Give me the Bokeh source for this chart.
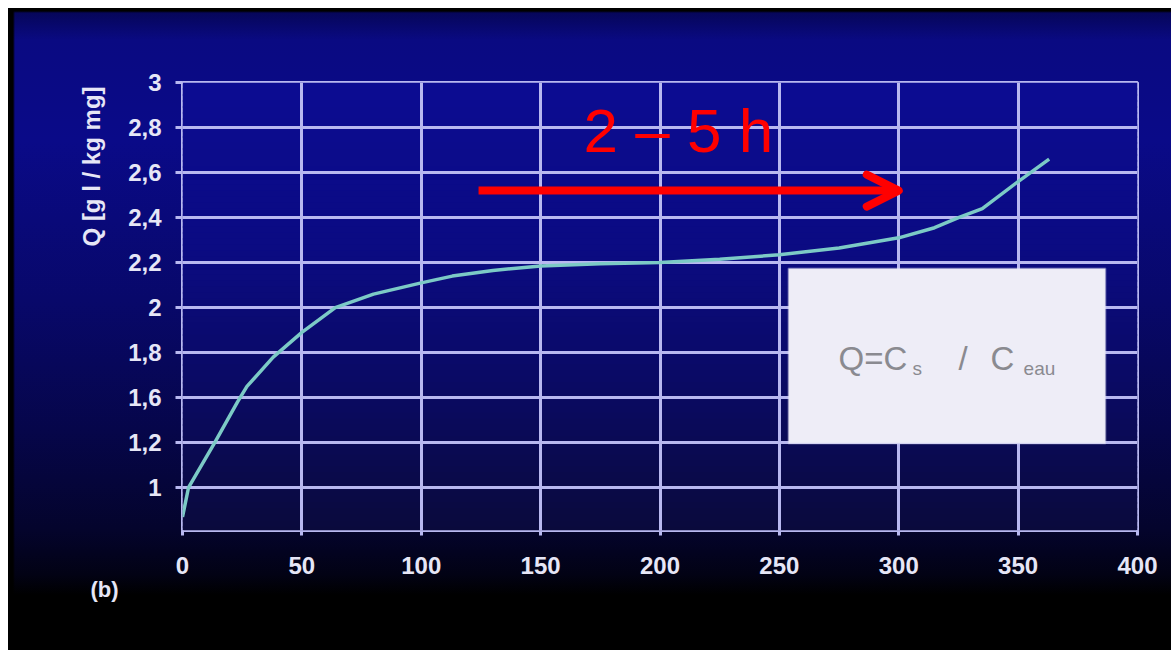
from bokeh.plotting import figure
from bokeh.models import Range1d, FixedTicker, Label, Arrow, OpenHead, BoxAnnotation, Title
from bokeh.embed import file_html
from bokeh.resources import INLINE

# ---- data ----
time_h = [0, 2.5, 8, 13.5, 23, 27, 38, 50, 64, 80, 100, 113, 130, 150, 175, 200, 225, 250, 275, 300, 315, 325, 335, 350, 363]
q_vals = [1.07, 1.20, 1.30, 1.40, 1.58, 1.65, 1.78, 1.89, 2.00, 2.06, 2.11, 2.14, 2.165, 2.185, 2.195, 2.20, 2.215, 2.235, 2.265, 2.31, 2.355, 2.40, 2.44, 2.56, 2.66]
x_ticks = [0, 50, 100, 150, 200, 250, 300, 350, 400]
y_ticks = [1.2, 1.4, 1.6, 1.8, 2.0, 2.2, 2.4, 2.6, 2.8, 3.0]
y_labels = ["1", "1,2", "1,6", "1,8", "2", "2,2", "2,4", "2,6", "2,8", "3"]
y_title = "Q [g l / kg mg]"
panel_tag = "(b)"
arrow_text = "2 – 5 h"

GRID = "#b8b8f0"
TXT = "#e6e6f6"

bg_css = ("linear-gradient(to right, #000 0px, #000 5px, rgba(0,0,0,0) 7px), "
          "linear-gradient(to bottom, #000 0px, #000 3px, #06065a 5px, #0a0a82 32px, #0a0a88 132px, "
          "#08086a 292px, #06064a 422px, #04042c 522px, #020214 567px, #000 587px, #000 100%)")

p = figure(width=1163, height=642, output_backend="svg", toolbar_location=None,
           x_range=Range1d(0, 400), y_range=Range1d(1.01, 3.0),
           min_border_left=174, min_border_right=34, min_border_top=74, min_border_bottom=120,
           margin=(8, 0, 0, 8), styles={"background": bg_css})
p.border_fill_color = None
p.background_fill_color = "#0a0a80"
p.outline_line_color = GRID
p.outline_line_width = 3

# ---- photographic shading of the plot area (decorative) ----
def px_to_y(py):
    return 3.0 - (py - 74) / 225.1

def mix(stops, py):
    for (a, ca), (b, cb) in zip(stops, stops[1:]):
        if a <= py <= b:
            t = (py - a) / (b - a)
            return "#%02x%02x%02x" % tuple(int(round(ca[i] + (cb[i] - ca[i]) * t)) for i in range(3))
    return "#%02x%02x%02x" % stops[-1][1]

frame_stops = [(74, (12, 12, 146)), (242, (11, 11, 130)), (392, (10, 10, 96)), (522, (10, 10, 60))]
step = 6
py = 74
while py < 522:
    p.add_layout(BoxAnnotation(left=0, right=400, top=px_to_y(py), bottom=px_to_y(min(py + step + 1, 522)),
                               fill_color=mix(frame_stops, py + step / 2), fill_alpha=1,
                               line_alpha=0, level="image"))
    py += step

# ---- grid & axes ----
p.xgrid.ticker = FixedTicker(ticks=x_ticks)
p.ygrid.ticker = FixedTicker(ticks=y_ticks)
for g in (p.xgrid, p.ygrid):
    g.grid_line_color = GRID
    g.grid_line_width = 3

p.xaxis.ticker = FixedTicker(ticks=x_ticks)
p.yaxis.ticker = FixedTicker(ticks=y_ticks)
p.yaxis.major_label_overrides = dict(zip(y_ticks, y_labels))
for ax in (p.xaxis, p.yaxis):
    ax.axis_line_color = None
    ax.major_tick_line_color = GRID
    ax.major_tick_line_width = 3
    ax.major_tick_in = 0
    ax.minor_tick_line_color = None
    ax.major_label_text_color = TXT
    ax.major_label_text_font = "Liberation Sans"
    ax.major_label_text_font_style = "bold"
    ax.major_label_text_font_size = "24px"
p.xaxis.major_tick_out = 5
p.xaxis.major_label_standoff = 21
p.yaxis.major_tick_out = 7
p.yaxis.major_label_standoff = 14

p.yaxis.axis_label_text_color = TXT
p.yaxis.axis_label_text_font = "Liberation Sans"
p.yaxis.axis_label_text_font_style = "bold"
p.yaxis.axis_label_text_font_size = "24px"
p.yaxis.axis_label_standoff = 20
# the photographed title sits high on the axis: pad its start with no-break spaces
p.yaxis.axis_label = "\u00a0" * 42 + y_title

# ---- curve ----
p.line(time_h, q_vals, line_color="#7ccac6", line_width=3.5)

# ---- "(b)" tag below, left of the x labels ----
tag = Title(text=panel_tag, align="left", offset=-92, vertical_align="top", standoff=0,
            text_color=TXT, text_font="Liberation Sans",
            text_font_style="bold", text_font_size="22px")
p.add_layout(tag, "below")

# ---- annotations ----
p.add_layout(Arrow(end=OpenHead(size=32, line_color="#ff0000", line_width=8, line_cap="round",
                                line_join="round"),
                   x_start=124, y_start=2.52, x_end=300, y_end=2.52,
                   line_color="#ff0000", line_width=8))
p.add_layout(Label(x=168, y=2.789, text=arrow_text, text_align="left", text_baseline="alphabetic",
                   text_color="#ff0000", text_font="Liberation Sans", text_font_size="62px"))

p.add_layout(BoxAnnotation(left=253.8, right=386.6, top=2.174, bottom=1.396,
                           fill_color="#eeedf7", fill_alpha=1, line_color="#d8d8ee", line_width=2))
box_txt = dict(text_color="#8a8a90", text_font="Liberation Sans", text_baseline="alphabetic")
p.add_layout(Label(x=274.8, y=1.776, text="Q=C", text_font_size="33px", **box_txt))
p.add_layout(Label(x=305.8, y=1.730, text="s", text_font_size="19px", **box_txt))
p.add_layout(Label(x=325.0, y=1.776, text="/", text_font_size="33px", **box_txt))
p.add_layout(Label(x=338.4, y=1.776, text="C", text_font_size="33px", **box_txt))
p.add_layout(Label(x=352.3, y=1.730, text="eau", text_font_size="19px", **box_txt))

open("out.html", "w").write(file_html(p, INLINE))
